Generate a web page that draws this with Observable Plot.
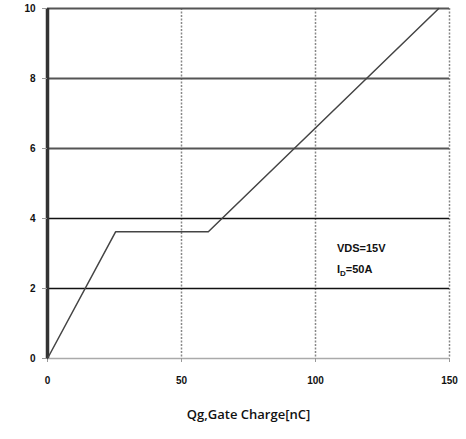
<!DOCTYPE html>
<html><head><meta charset="utf-8">
<script src="https://cdn.jsdelivr.net/npm/d3@7"></script>
<script src="https://cdn.jsdelivr.net/npm/@observablehq/plot@0.6"></script>
<style>body{margin:0;background:#fff}</style>
</head><body><div id="chart"></div>
<script>
const charge = [0, 25.4, 60, 146];
const vgs = [0, 3.62, 3.62, 10];
const yTicks = [0, 2, 4, 6, 8, 10];
const xTicks = [0, 50, 100, 150];
const gridY = [2, 4, 6, 8, 10];
const gridX = [50, 100, 150];
const note = [{x: 108, y: 3.14, t: "VDS=15V"}, {x: 108, y: 2.55, t: "ID=50A"}];

const data = charge.map((c, i) => ({x: c, y: vgs[i]}));

const chart = Plot.plot({
  width: 466, height: 439,
  marginLeft: 47, marginRight: 17, marginTop: 8, marginBottom: 81,
  x: {domain: [0, 150]},
  y: {domain: [0, 10]},
  style: {fontFamily: "Liberation Sans, Arial, sans-serif", background: "#fff"},
  marks: [
    Plot.ruleY([0], {stroke: "#aaa", strokeWidth: 1.5}),
    Plot.ruleX(gridX, {stroke: "#888", strokeWidth: 1.5, strokeDasharray: "2,1.5"}),
    Plot.ruleY(gridY, {stroke: d => d >= 6 ? "#555" : "#111", strokeWidth: d => d >= 6 ? 2 : 1.5}),
    Plot.ruleX([0], {stroke: "#333", strokeWidth: 3.5}),
    Plot.axisY({ticks: yTicks, tickSize: 5, tickPadding: 7, stroke: "#999", label: null,
      fontSize: 10, fontWeight: "bold", fill: "#111"}),
    Plot.axisX({ticks: xTicks, tickSize: 4, tickPadding: 14, stroke: "#999", label: null,
      fontSize: 10, fontWeight: "bold", fill: "#111"}),
    Plot.line(data, {x: "x", y: "y", stroke: "#444", strokeWidth: 1.5}),
    Plot.text(note, {x: "x", y: "y", text: "t", textAnchor: "start", fontSize: 11,
      fontWeight: "bold", fill: "#111"}),
    Plot.text(["Qg,Gate Charge[nC]"], {frameAnchor: "bottom", dy: 60, fontSize: 13,
      fontWeight: 600, fill: "#111", fontFamily: "Open Sans, sans-serif"})
  ]
});
document.getElementById("chart").appendChild(chart);
d3.select(chart).selectAll("text").each(function() {
  if (this.textContent === "ID=50A") {
    const s = d3.select(this);
    s.text(null);
    s.append("tspan").text("I");
    s.append("tspan").attr("font-size", 8).attr("dy", 3).text("D");
    s.append("tspan").attr("dy", -3).text("=50A");
  }
});
</script></body></html>
